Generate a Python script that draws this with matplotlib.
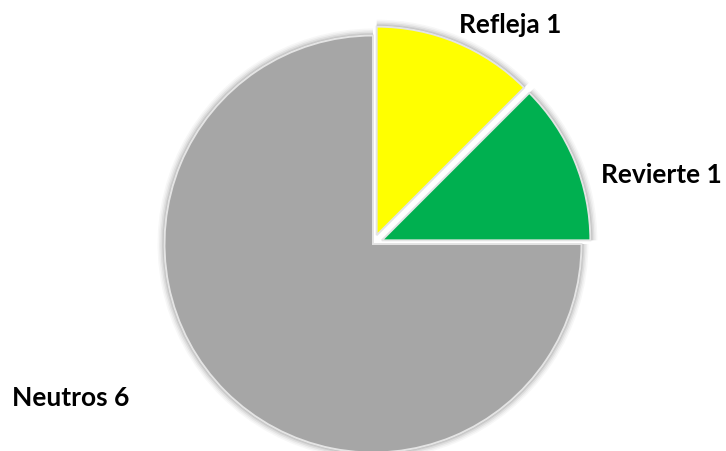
import matplotlib.pyplot as plt

categories = ["Refleja", "Revierte", "Neutros"]
values = [1, 1, 6]
colors = ["#ffff00", "#00b050", "#a6a6a6"]
explode_frac = [0.046, 0.046, 0.0]

W, H = 726, 452
fig = plt.figure(figsize=(W / 100, H / 100), dpi=100)
ax = fig.add_axes([0, 0, 1, 1])

center = (373, H - 245)
radius = 208.5
# matplotlib's explode is an absolute offset, so scale by the radius
explode = [e * radius for e in explode_frac]

# soft glow behind the slices
for k, a in [(7, 0.03), (5.5, 0.04), (4, 0.06), (2.5, 0.08), (1.2, 0.12)]:
    ax.pie(values, radius=radius + k, center=center, startangle=90,
           counterclock=False, explode=explode,
           colors=["#000000"] * 3, wedgeprops=dict(alpha=a, linewidth=0),
           frame=True)

ax.pie(values, radius=radius, center=center, startangle=90, counterclock=False,
       explode=explode, colors=colors,
       wedgeprops=dict(edgecolor="#e4e4e4", linewidth=1.4), frame=True)

ax.set_xlim(0, W)
ax.set_ylim(0, H)
ax.set_aspect("equal")
ax.axis("off")

label_pos = [(510, H - 25), (661, H - 175), (71, H - 398)]
for cat, val, (x, y) in zip(categories, values, label_pos):
    ax.text(x, y, f"{cat} {val}", ha="center", va="center",
            fontsize=19, fontweight="bold", family="Lato", color="black")

fig.savefig("out.png", dpi=100)
